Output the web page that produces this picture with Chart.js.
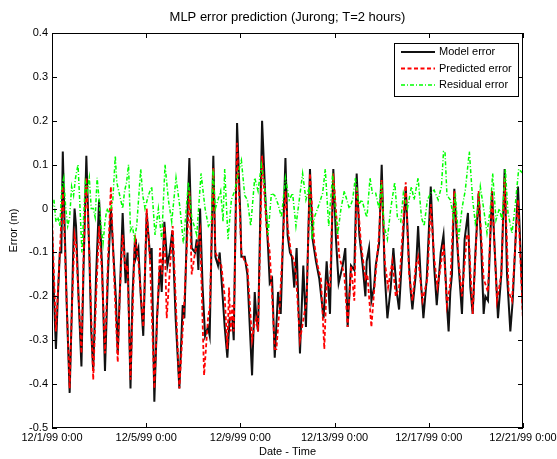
<!DOCTYPE html>
<html>
<head>
<meta charset="utf-8">
<title>MLP error prediction</title>
<script src="https://cdn.jsdelivr.net/npm/chart.js@4.4.1/dist/chart.umd.min.js"></script>
<style>
  html, body { margin: 0; padding: 0; background: #fff; }
  #wrap { width: 557px; height: 459px; }
</style>
</head>
<body>
<div id="wrap"><canvas id="errChart" width="557" height="459"></canvas></div>
<script>
// [hours since 12/1/99 0:00, error (m)]
const modelError = [
  [0,-0.05],[2,-0.2],[4,-0.32],[6,-0.2],[8,-0.1],[9.5,-0.1],[11,0.13],[13,-0.05],[15,-0.22],[18,-0.42],
  [20,-0.25],[22,-0.06],[23,0.0],[24.5,-0.04],[27,-0.2],[30,-0.36],[32,-0.15],[35,0.12],[38,-0.1],[40,-0.28],
  [42,-0.37],[45,-0.15],[48,0.02],[51,-0.13],[54,-0.37],[57,-0.15],[60,0.0],[63,-0.12],[65,-0.2],[67,-0.33],
  [69,-0.2],[72,-0.01],[75,-0.17],[77,-0.1],[80,-0.41],[82,-0.2],[84.6,-0.07],[85.6,-0.11],[88,-0.09],[90.5,-0.2],
  [93,-0.29],[96.5,-0.01],[100,-0.11],[101.6,-0.09],[104.3,-0.44],[107,-0.25],[110,-0.13],[111.8,-0.19],[114.5,-0.03],[117.6,-0.13],
  [120,-0.1],[122.7,-0.05],[126,-0.25],[129.8,-0.41],[133.2,-0.22],[134.9,-0.25],[137.5,-0.05],[140,0.115],[142.4,-0.09],[145.8,-0.1],
  [147.5,-0.07],[149.2,-0.14],[150.9,0.0],[153.5,-0.18],[156,-0.29],[159,-0.27],[160.7,-0.29],[164.4,0.12],[166.5,-0.11],[169.2,-0.13],
  [170.9,-0.1],[173.3,-0.18],[176,-0.27],[178.7,-0.34],[181.1,-0.25],[183.8,-0.25],[185.2,-0.3],[188.6,0.195],[192,-0.02],[193,-0.11],
  [196.4,-0.11],[199.1,-0.15],[202.2,-0.3],[203.9,-0.38],[206.6,-0.19],[208.3,-0.25],[210,-0.28],[214.1,0.2],[217.5,0.02],[220.2,-0.09],
  [221.9,-0.17],[224.3,-0.16],[227,-0.34],[230.4,-0.19],[233.1,-0.24],[237.9,0.115],[240.1,-0.06],[242.5,-0.1],[244.5,-0.11],[246.9,-0.18],
  [249.3,-0.09],[252.7,-0.33],[256.1,-0.13],[258.8,-0.27],[262.9,0.09],[265.6,-0.07],[269,-0.12],[272.4,-0.16],[276.8,-0.25],[279.9,-0.12],
  [283.3,-0.24],[286.7,0.09],[289.4,-0.07],[292.1,-0.17],[296.2,-0.13],[298.9,-0.09],[301.3,-0.27],[304.7,-0.13],[308.1,-0.14],[310.5,0.08],
  [313.2,-0.06],[316.6,-0.13],[319.4,-0.2],[320.7,-0.12],[323.1,-0.09],[325.5,-0.21],[328.2,-0.18],[329.9,-0.13],[333.3,-0.08],[336,0.1],
  [339.1,-0.15],[341.8,-0.25],[345.2,-0.18],[347.9,-0.09],[351.3,-0.19],[353.7,-0.23],[357,-0.1],[360.5,0.05],[363.9,-0.13],[365.6,-0.19],
  [367.3,-0.23],[370.7,-0.15],[373.1,-0.04],[375.8,-0.16],[378.5,-0.25],[381.9,-0.16],[386,0.05],[389.4,-0.13],[392.1,-0.22],[396.2,-0.1],
  [399,-0.06],[402.5,-0.22],[404.2,-0.28],[405.9,-0.19],[407.6,-0.15],[410,0.045],[412.7,-0.07],[414.4,-0.13],[417.8,-0.24],[420.5,-0.07],
  [423.9,-0.01],[426.3,-0.18],[428.7,-0.24],[431.5,-0.1],[434.8,0.035],[437.5,-0.09],[439.9,-0.24],[441.6,-0.2],[444.3,-0.21],[448.4,0.04],
  [451.1,-0.09],[454.5,-0.25],[457.9,-0.15],[461.3,0.09],[463.7,-0.15],[467.1,-0.28],[469.5,-0.21],[474.9,0.05],[480,-0.24]
];

const predictedError = [
  [0,-0.02],[4,-0.28],[8,-0.1],[11,0.05],[14,-0.15],[18,-0.41],[20,-0.25],[23,-0.06],[24.5,-0.08],[27,-0.2],
  [30,-0.33],[32,-0.12],[35,0.07],[38,-0.1],[42,-0.39],[45,-0.2],[48,-0.04],[51,-0.15],[54,-0.33],[57,-0.12],
  [60,0.05],[63,-0.14],[67,-0.35],[69,-0.2],[72,-0.06],[75,-0.14],[77,-0.13],[80,-0.39],[84.6,-0.06],[88,-0.12],
  [93.1,-0.27],[96.5,0.0],[99.9,-0.12],[104.3,-0.41],[110.1,-0.09],[112.2,-0.15],[114.5,-0.04],[116.9,-0.25],[123,-0.04],[129.8,-0.41],
  [134.9,-0.21],[140,0.04],[142.4,-0.15],[145.8,-0.1],[149.2,-0.07],[150.9,-0.05],[155,-0.38],[159,-0.25],[161,-0.22],[164.4,0.095],
  [166.5,-0.1],[172.6,-0.13],[176,-0.2],[178.7,-0.32],[180.4,-0.18],[182.1,-0.28],[183.8,-0.22],[185.2,-0.28],[188.6,0.15],[193,-0.1],
  [196.4,-0.12],[199.1,-0.13],[203.9,-0.3],[206.6,-0.26],[208.3,-0.25],[210,-0.28],[214.1,0.12],[218.5,-0.04],[221.9,-0.1],[224.3,-0.2],
  [227,-0.32],[228.7,-0.32],[232.1,-0.22],[237.9,0.04],[240.1,-0.04],[243.5,-0.1],[246.9,-0.12],[248.6,-0.15],[252.7,-0.3],[257.1,-0.24],
  [259.5,-0.21],[262.9,0.08],[267.3,-0.08],[270.7,-0.13],[274.1,-0.16],[277.5,-0.32],[279.9,-0.17],[283.3,-0.18],[286.7,0.08],[292.8,-0.11],
  [297.9,-0.15],[301.3,-0.27],[304.7,-0.13],[308.1,-0.21],[310.5,0.05],[314.9,-0.08],[319.4,-0.16],[321.4,-0.15],[325.5,-0.27],[328.2,-0.19],
  [333.3,-0.06],[336,0.065],[339.1,-0.12],[342.5,-0.18],[346.9,-0.12],[350.3,-0.2],[353.7,-0.18],[360.5,0.06],[363.9,-0.15],[367.3,-0.21],
  [370.7,-0.13],[373.1,-0.11],[377.5,-0.21],[382.6,-0.16],[386,0.01],[389.4,-0.11],[392.8,-0.18],[396.2,-0.13],[399,-0.08],[402.5,-0.22],
  [405.9,-0.17],[410,0.04],[414.4,-0.12],[417.8,-0.2],[422.9,-0.06],[424.6,-0.06],[428.7,-0.24],[434.8,0.04],[439.9,-0.16],[444.3,-0.19],
  [448.4,0.04],[453.5,-0.21],[457.9,-0.15],[461.3,0.07],[465.4,-0.19],[468.8,-0.21],[474.9,0.02],[480,-0.26]
];

const residualError = [
  [0,0.0],[2,0.02],[4,-0.03],[6,-0.02],[8,-0.04],[10,0.05],[12,0.07],[14,0.0],[16,-0.04],[18,-0.02],
  [20,0.05],[22,0.03],[24,0.07],[26.5,0.1],[28,0.03],[30.5,-0.1],[32,-0.03],[34,0.06],[36,0.04],[38,0.07],
  [40,0.0],[42,0.0],[44,-0.02],[46,0.07],[48,0.02],[50,-0.04],[52,-0.08],[54,-0.03],[56,0.0],[58,-0.01],
  [60,0.0],[62,0.02],[64.5,0.12],[66,0.06],[68,0.04],[70,0.02],[72,0.0],[74,0.04],[76,0.06],[78,0.1],
  [80,-0.05],[82,-0.04],[84,-0.07],[86.3,-0.04],[90.4,0.09],[92.5,0.03],[94.8,0.0],[98.2,0.03],[101.6,0.05],[105,-0.06],
  [108.4,0.0],[111.8,-0.07],[115.2,0.1],[118.6,0.02],[122,-0.03],[126.4,0.07],[130.5,0.0],[133.9,-0.08],[139,0.06],[142.4,-0.02],
  [147.5,-0.06],[151.9,0.08],[156,0.0],[159.4,-0.04],[162.4,-0.03],[164.1,0.09],[166.5,0.0],[169.2,0.02],[171.9,0.04],[174.3,-0.03],
  [176,0.09],[179.4,-0.07],[182.8,0.02],[186.2,0.04],[189.6,0.08],[193,0.11],[196.4,0.03],[199.1,0.02],[202.5,-0.04],[206.6,0.07],
  [210,0.04],[213.4,0.1],[216.8,0.05],[220.2,-0.06],[223.6,0.035],[227,0.03],[230.4,0.01],[233.8,-0.02],[237.9,0.07],[241.8,0.02],
  [245.2,0.035],[248.6,-0.04],[252,0.02],[255.4,0.08],[258.8,0.02],[262.2,0.05],[264.9,-0.07],[267.3,-0.02],[270.7,0.0],[275.8,0.035],
  [278.5,0.09],[282,-0.04],[286,0.08],[289.4,-0.02],[291.1,-0.06],[294.5,0.0],[297.9,0.04],[303,0.0],[306.4,0.02],[309.1,0.07],
  [312.6,0.01],[315.9,0.02],[319.4,-0.01],[321,-0.02],[324.1,0.07],[326.5,0.035],[329.9,0.035],[333.3,0.0],[335.7,0.06],[338.4,-0.04],
  [341.8,-0.07],[345.2,0.0],[349.3,0.06],[352,-0.02],[355.4,-0.03],[358.1,0.035],[362.2,0.0],[366.3,0.05],[369,0.02],[373.1,0.07],
  [376.5,-0.02],[379.2,-0.04],[382.6,0.02],[386,0.035],[389.4,0.042],[393.5,0.02],[396.9,0.05],[399,0.13],[400.5,0.13],[402.5,0.03],
  [405.9,0.02],[409.3,-0.02],[411,0.035],[414.4,-0.07],[417.8,0.0],[421.2,0.042],[425.3,0.13],[428.7,0.02],[431.4,-0.033],[434.1,0.0],
  [436.5,0.05],[439.9,0.0],[443.3,-0.056],[446.7,0.0],[449.1,0.08],[452.5,-0.026],[455.9,0.0],[458.6,-0.026],[462,0.09],[464.7,-0.01],
  [468.8,-0.056],[472.2,0.01],[475.6,0.09],[480,0.08]
];

const xTickLabels = ['12/1/99 0:00', '12/5/99 0:00', '12/9/99 0:00', '12/13/99 0:00', '12/17/99 0:00', '12/21/99 0:00'];
const yTickLabels = ['-0.5', '-0.4', '-0.3', '-0.2', '-0.1', '0', '0.1', '0.2', '0.3', '0.4'];

const FONT = "'Liberation Sans', Arial, Helvetica, sans-serif";

function toPoints(pairs) {
  return pairs.map(p => ({ x: p[0], y: p[1] }));
}

// box around the axes with inward ticks on all four sides, like matlab
const boxPlugin = {
  id: 'matlabBox',
  afterDatasetsDraw(chart) {
    const { ctx, chartArea: a, scales } = chart;
    const tl = 5;
    ctx.save();
    ctx.strokeStyle = '#000';
    ctx.lineWidth = 1;
    ctx.strokeRect(a.left + 0.5, a.top + 0.5, a.right - a.left - 1, a.bottom - a.top - 1);
    ctx.beginPath();
    scales.x.ticks.forEach(t => {
      const px = Math.round(scales.x.getPixelForValue(t.value)) + 0.5;
      ctx.moveTo(px, a.bottom); ctx.lineTo(px, a.bottom - tl);
      ctx.moveTo(px, a.top); ctx.lineTo(px, a.top + tl);
    });
    scales.y.ticks.forEach(t => {
      const py = Math.round(scales.y.getPixelForValue(t.value)) + 0.5;
      ctx.moveTo(a.left, py); ctx.lineTo(a.left + tl, py);
      ctx.moveTo(a.right, py); ctx.lineTo(a.right - tl, py);
    });
    ctx.stroke();
    ctx.restore();
  },
  afterDraw(chart) {
    // legend box in the upper right corner
    const { ctx, chartArea: a } = chart;
    const w = 125, h = 54;
    const left = a.right - 4 - w, top = a.top + 10;
    ctx.save();
    ctx.fillStyle = '#fff';
    ctx.fillRect(left, top, w, h);
    ctx.strokeStyle = '#000';
    ctx.lineWidth = 1;
    ctx.strokeRect(left + 0.5, top + 0.5, w - 1, h - 1);
    ctx.font = '11px ' + FONT;
    ctx.textBaseline = 'middle';
    chart.data.datasets.forEach((ds, i) => {
      const y = top + 9 + i * 16.5;
      ctx.beginPath();
      ctx.strokeStyle = ds.borderColor;
      ctx.lineWidth = ds.borderWidth;
      ctx.setLineDash(ds.borderDash || []);
      ctx.moveTo(left + 7, y);
      ctx.lineTo(left + 41, y);
      ctx.stroke();
      ctx.setLineDash([]);
      ctx.fillStyle = '#000';
      ctx.fillText(ds.label, left + 45, y);
    });
    ctx.restore();
  }
};

new Chart(document.getElementById('errChart'), {
  type: 'line',
  data: {
    datasets: [
      { label: 'Model error', data: toPoints(modelError), borderColor: '#111111', borderWidth: 2, order: 3 },
      { label: 'Predicted error', data: toPoints(predictedError), borderColor: '#ff0000', borderWidth: 1.8, borderDash: [4, 2.5], order: 2 },
      { label: 'Residual error', data: toPoints(residualError), borderColor: '#00ff00', borderWidth: 1.5, borderDash: [4, 2, 1, 2], order: 1 }
    ]
  },
  options: {
    responsive: false,
    animation: false,
    devicePixelRatio: 1,
    layout: { padding: { top: 0, right: 34, bottom: 0, left: 0 } },
    elements: {
      point: { radius: 0 },
      line: { tension: 0, fill: false }
    },
    plugins: {
      legend: { display: false },
      tooltip: { enabled: false },
      title: {
        display: true,
        fullSize: false,
        text: 'MLP error prediction (Jurong; T=2 hours)',
        color: '#000',
        font: { family: FONT, size: 13, weight: 'normal' },
        padding: { top: 10, bottom: 7.4 }
      }
    },
    scales: {
      x: {
        type: 'linear',
        min: 0,
        max: 480,
        grid: { display: false, drawTicks: false },
        border: { display: false },
        ticks: {
          stepSize: 96,
          autoSkip: false,
          maxRotation: 0,
          padding: 3,
          color: '#000',
          font: { family: FONT, size: 11 },
          callback: (v, i) => xTickLabels[i]
        },
        title: {
          display: true,
          text: 'Date - Time',
          color: '#000',
          font: { family: FONT, size: 11 },
          padding: { top: 2, bottom: 0 }
        },
        afterFit(s) { s.height = 31; s.paddingLeft = 0; s.paddingRight = 0; }
      },
      y: {
        min: -0.5,
        max: 0.4,
        grid: { display: false, drawTicks: false },
        border: { display: false },
        ticks: {
          stepSize: 0.1,
          padding: 4,
          color: '#000',
          font: { family: FONT, size: 11 },
          callback: (v, i) => yTickLabels[i]
        },
        title: {
          display: true,
          text: 'Error (m)',
          color: '#000',
          font: { family: FONT, size: 11 },
          padding: { top: 7, bottom: 0 }
        },
        afterFit(s) { s.width = 52; s.paddingTop = 0; s.paddingBottom = 0; }
      }
    }
  },
  plugins: [boxPlugin]
});
</script>
</body>
</html>
